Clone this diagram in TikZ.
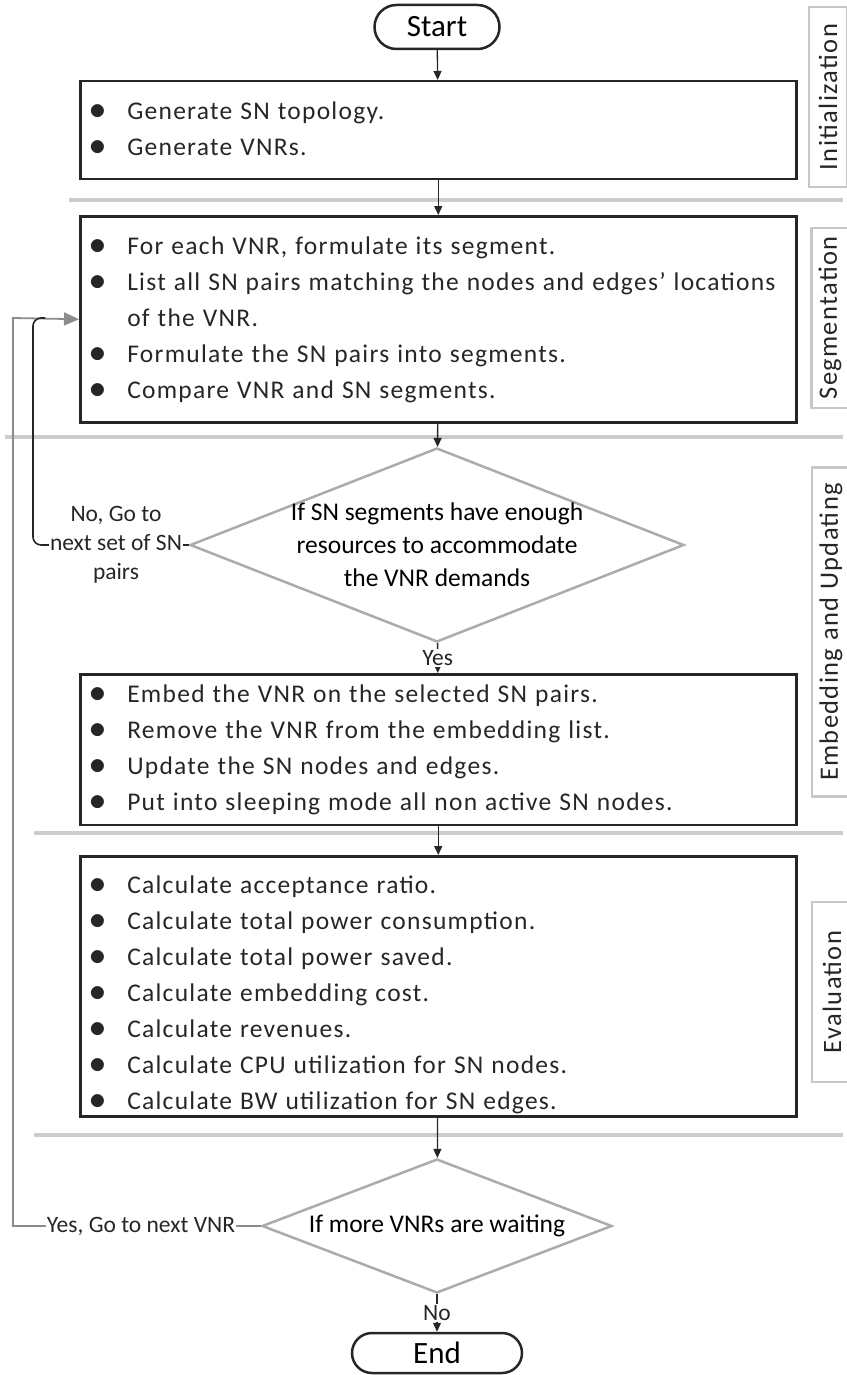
\documentclass[tikz,border=0pt]{standalone}
\usepackage{fontspec}
\setmainfont{Carlito}
\newfontfamily\lightfont[LetterSpace=5]{Carlito}
\usetikzlibrary{shapes.geometric,shapes.misc,arrows.meta}
% bullet list used inside the step boxes
\newcommand{\dotmark}{\scalebox{1.35}{$\bullet$}}
\newcommand{\steprows}[1]{\lightfont\fontsize{25.5}{36}\selectfont\spaceskip=8pt plus 2pt minus 1pt\relax
	\begin{tabular}{@{}p{38pt}@{}l@{}}#1\end{tabular}}
\newcommand{\phasefont}{\lightfont\fontsize{26.5}{30}\selectfont\spaceskip=8pt plus 2pt\relax}
\begin{document}
\begin{tikzpicture}[x=1pt,y=-1pt,
	terminal/.style={draw=black!85,line width=2.5pt,rounded rectangle,inner sep=0pt,font=\fontsize{31}{36}\selectfont},
	stepbox/.style={draw=black!85,line width=2.5pt,anchor=north west,minimum width=716pt,inner xsep=9pt,text width=698pt,align=left,text=black!85},
	decision/.style={draw=black!33,line width=2.5pt,diamond,inner sep=0pt},
	asktext/.style={align=center,font=\fontsize{25.5}{33}\selectfont},
	phase/.style={draw=black!22,line width=2.5pt,rotate=90,inner sep=0pt,font=\phasefont,text=black!85},
	separator/.style={draw=black!20,line width=4pt},
	flow/.style={draw=black!85,line width=1.3pt,-{Triangle[length=9pt,width=8pt]}},
	branch/.style={font=\fontsize{23.5}{29}\selectfont,text=black!85,inner xsep=1pt},
	backline/.style={draw=black!85,line width=1.6pt},
	loopline/.style={draw=black!45,line width=1.8pt}]
	\useasboundingbox (0,0) rectangle (846,1375);
	% phase separators
	\draw[separator] (69,200) -- (843,200);
	\draw[separator] (5,437) -- (843,437);
	\draw[separator] (34,833) -- (843,833);
	\draw[separator] (34,1135) -- (843,1135);
	% phase labels
	\node[phase,minimum width=180pt,minimum height=38pt] (initphase) at (828,97) {Initialization};
	\node[phase,minimum width=180pt,minimum height=37pt] (segphase) at (830,318) {Segmentation};
	\node[phase,minimum width=329pt,minimum height=38pt] (embphase) at (831,632) {Embedding and Updating};
	\node[phase,minimum width=180pt,minimum height=40pt] (evalphase) at (832,992) {Evaluation};
	% flow
	\node[terminal,minimum width=125pt,minimum height=44pt] (start) at (437,27) {Start};
	\node[stepbox,minimum height=98pt] (init) at (79,80) {\steprows{%
		\dotmark & Generate SN topology.\\
		\dotmark & Generate VNRs.}};
	\node[stepbox,minimum height=206pt] (seg) at (79,215) {\steprows{%
		\dotmark & For each VNR, formulate its segment.\\
		\dotmark & List all SN pairs matching the nodes and edges’ locations\\
		& of the VNR.\\
		\dotmark & Formulate the SN pairs into segments.\\
		\dotmark & Compare VNR and SN segments.}};
	\node[decision,minimum width=494pt,minimum height=194pt] (ask1) at (437,545) {};
	\node[asktext] (ask1text) at (ask1) {If SN segments have enough\\resources to accommodate\\the VNR demands};
	\node[stepbox,minimum height=145pt] (embed) at (79,673) {\steprows{%
		\dotmark & Embed the VNR on the selected SN pairs.\\
		\dotmark & Remove the VNR from the embedding list.\\
		\dotmark & Update the SN nodes and edges.\\
		\dotmark & Put into sleeping mode all non active SN nodes.}};
	\node[stepbox,minimum height=260pt] (eval) at (79,855) {\raisebox{-8pt}[\height][\depth]{\steprows{%
		\dotmark & Calculate acceptance ratio.\\
		\dotmark & Calculate total power consumption.\\
		\dotmark & Calculate total power saved.\\
		\dotmark & Calculate embedding cost.\\
		\dotmark & Calculate revenues.\\
		\dotmark & Calculate CPU utilization for SN nodes.\\
		\dotmark & Calculate BW utilization for SN edges.}}};
	\node[decision,minimum width=350pt,minimum height=134pt] (ask2) at (437,1226) {};
	\node[asktext] (ask2text) at (ask2) {If more VNRs are waiting};
	\node[terminal,minimum width=170pt,minimum height=40pt] (end) at (437,1353) {End};
	\draw[flow] (start) -- (init);
	\draw[flow] (init) -- (seg);
	\draw[flow] (seg) -- (ask1);
	\draw[flow] (ask1) -- node[branch,fill=white,inner sep=1pt]{Yes} (embed);
	\draw[flow] (embed) -- (eval);
	\draw[flow] (eval) -- (ask2);
	\draw[flow] (ask2) -- node[branch,fill=white,inner sep=1pt]{No} (end);
	% loop back to the segmentation step
	\node[branch,align=center] (nextset) at (116,545) {No, Go to\\next set of SN\\pairs};
	\node[branch] (nextvnr) at (141,1226) {Yes, Go to next VNR};
	\coordinate (rail) at (13,318);
	\draw[loopline] (ask2.west) -- (nextvnr.east);
	\draw[loopline,-{Triangle[length=15pt,width=13pt]}] (nextvnr.west) -| (rail) -- (seg.west);
	\draw[backline] (ask1.west) -- (nextset.east);
	\draw[backline,rounded corners=8pt] (nextset.west) -| (33,318) -- (45,318);
\end{tikzpicture}
\end{document}
